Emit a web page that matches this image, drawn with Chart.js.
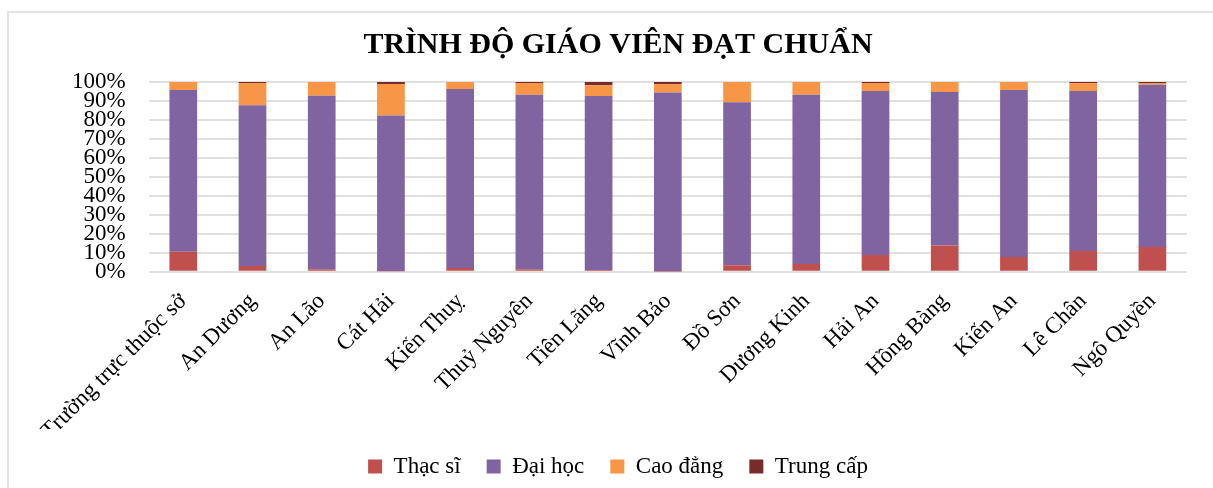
<!DOCTYPE html>
<html>
<head>
<meta charset="utf-8">
<script src="https://cdn.jsdelivr.net/npm/chart.js@4/dist/chart.umd.min.js"></script>
<style>
	body { margin: 0; background: #fff; }
	#frame { position: absolute; left: 7px; top: 11px; width: 1210px; height: 490px; border: 2px solid #e3e3e3; box-sizing: border-box; }
	#wrap { position: absolute; left: 0; top: 0; width: 1213px; height: 488px; }
</style>
</head>
<body>
<div id="frame"></div>
<div id="wrap"><canvas id="chart"></canvas></div>
<script>
var categories = ["Trường trực thuộc sở", "An Dương", "An Lão", "Cát Hải", "Kiến Thuỵ", "Thuỷ Nguyên", "Tiên Lãng", "Vĩnh Bảo", "Đồ Sơn", "Dương Kinh", "Hải An", "Hồng Bàng", "Kiến An", "Lê Chân", "Ngô Quyền"];
var thacSi   = [10.5, 3.0, 1.4, 0.3, 2.0, 1.4, 0.9, 0.2, 3.5, 4.1, 8.8, 13.8, 7.8, 10.9, 13.1];
var daiHoc   = [85.3, 84.8, 91.4, 82.1, 94.3, 91.9, 91.7, 94.3, 85.8, 89.2, 86.4, 80.9, 88.0, 84.3, 85.5];
var caoDang  = [4.2, 11.7, 7.2, 16.6, 3.7, 6.2, 5.7, 4.3, 10.7, 6.7, 4.3, 5.3, 4.2, 4.2, 0.9];
var trungCap = [0, 0.5, 0, 1.0, 0, 0.5, 1.7, 1.2, 0, 0, 0.5, 0, 0, 0.6, 0.5];
var yTicks = [0, 10, 20, 30, 40, 50, 60, 70, 80, 90, 100];

var serif = "'Liberation Serif', 'Times New Roman', serif";

function ds(label, data, color) {
	return { label: label, data: data, backgroundColor: color, borderWidth: 0,
		categoryPercentage: 1, barPercentage: 0.4 };
}

var ctx = document.getElementById('chart');
var myChart = new Chart(ctx, {
	type: 'bar',
	data: {
		labels: categories,
		datasets: [
			ds('Thạc sĩ', thacSi, '#C0504D'),
			ds('Đại học', daiHoc, '#8064A2'),
			ds('Cao đẳng', caoDang, '#F79646'),
			ds('Trung cấp', trungCap, '#772C2A')
		]
	},
	options: {
		responsive: true,
		maintainAspectRatio: false,
		animation: false,
		layout: { padding: { left: 49, right: 26, top: 0, bottom: 0 } },
		plugins: {
			title: { display: true, text: 'TRÌNH ĐỘ GIÁO VIÊN ĐẠT CHUẨN', color: '#000',
				font: { family: serif, size: 30, weight: 'bold' }, padding: { top: 27, bottom: 19 } },
			legend: { position: 'bottom', labels: { color: '#000', boxWidth: 14, boxHeight: 14, padding: 26,
				font: { family: serif, size: 23 } } },
			tooltip: { enabled: false }
		},
		scales: {
			x: {
				stacked: true,
				grid: { display: false },
				border: { display: false },
				afterFit: function (scale) { scale.height = scale.height - 24; },
				ticks: { color: '#000', maxRotation: 45, minRotation: 45, autoSkip: false, padding: 8,
					font: { family: serif, size: 23 } }
			},
			y: {
				stacked: true,
				min: 0, max: 100,
				afterBuildTicks: function (axis) { axis.ticks = yTicks.map(function (v) { return { value: v }; }); },
				grid: { color: '#e0e0e0', lineWidth: 2, drawTicks: false },
				border: { display: false },
				ticks: { color: '#000', padding: 23, autoSkip: false, callback: function (v) { return v + '%'; },
					font: { family: serif, size: 23, lineHeight: 0.8 } }
			}
		}
	}
});
</script>
</body>
</html>
